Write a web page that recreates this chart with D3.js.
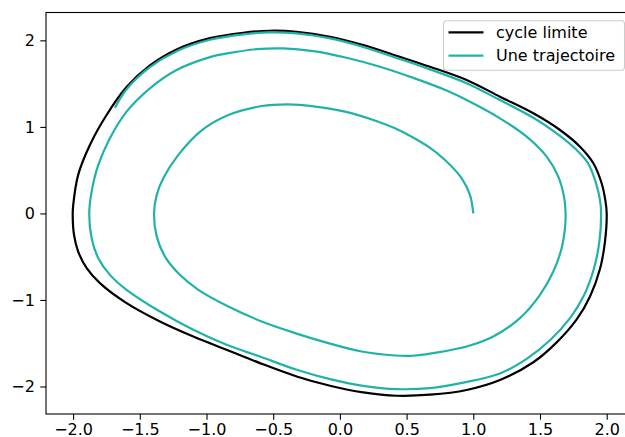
<!DOCTYPE html>
<html>
<head>
<meta charset="utf-8">
<script src="https://cdn.jsdelivr.net/npm/d3@7"></script>
<style>
  html, body { margin: 0; padding: 0; background: #fff; overflow: hidden; }
</style>
</head>
<body>
<div id="chart"></div>
<script>
// limit cycle (x, y)
const limitCycle = [
  [2.0, 0.0], [1.99, 0.15], [1.962, 0.349], [1.90, 0.58], [1.80, 0.771], [1.65, 0.964],
  [1.45, 1.157], [1.20, 1.349], [0.95, 1.542], [0.675, 1.695], [0.425, 1.822], [0.175, 1.946],
  [-0.074, 2.042], [-0.324, 2.099], [-0.524, 2.111], [-0.724, 2.088], [-0.974, 2.025],
  [-1.224, 1.895], [-1.424, 1.71], [-1.599, 1.46], [-1.749, 1.137], [-1.874, 0.791],
  [-1.962, 0.445], [-1.999, 0.098], [-2.003, -0.017], [-1.993, -0.248], [-1.962, -0.441],
  [-1.898, -0.633], [-1.799, -0.806], [-1.599, -1.037], [-1.349, -1.249], [-1.099, -1.423],
  [-0.849, -1.576], [-0.599, -1.73], [-0.324, -1.884], [-0.074, -1.992], [0.175, -2.069],
  [0.425, -2.107], [0.675, -2.095], [0.95, -2.04], [1.2, -1.925], [1.45, -1.72],
  [1.625, -1.49], [1.775, -1.225], [1.875, -0.96], [1.95, -0.64], [1.987, -0.326]
];

// the trajectory, starting at (1, 0), one turn per array
const trajTurn1 = [
  [1.0, 0.0], [0.975, 0.214], [0.913, 0.406], [0.788, 0.618], [0.663, 0.771], [0.538, 0.887],
  [0.413, 0.984], [0.288, 1.06], [0.038, 1.176], [-0.211, 1.241], [-0.386, 1.261],
  [-0.586, 1.241], [-0.836, 1.137], [-1.036, 0.96], [-1.211, 0.676], [-1.324, 0.406],
  [-1.373, 0.214], [-1.393, 0.0], [-1.373, -0.268], [-1.311, -0.499], [-1.211, -0.691],
  [-1.061, -0.883], [-0.836, -1.076], [-0.586, -1.249], [-0.336, -1.383], [-0.087, -1.499],
  [0.163, -1.596], [0.413, -1.642], [0.55, -1.645], [0.70, -1.614], [0.95, -1.538],
  [1.15, -1.423], [1.35, -1.21], [1.5, -0.941], [1.6, -0.672], [1.662, -0.402], [1.687, -0.171]
];
const trajTurn2 = [
  [1.692, 0.0], [1.68, 0.194], [1.637, 0.425], [1.55, 0.656], [1.40, 0.887], [1.20, 1.099],
  [0.95, 1.31], [0.80, 1.42], [0.55, 1.566], [0.30, 1.695], [0.05, 1.799], [-0.199, 1.876],
  [-0.424, 1.907], [-0.624, 1.898], [-0.824, 1.855], [-0.974, 1.806], [-1.224, 1.657],
  [-1.424, 1.446], [-1.599, 1.176], [-1.724, 0.868], [-1.811, 0.56], [-1.861, 0.252],
  [-1.879, 0.0], [-1.861, -0.287], [-1.811, -0.518], [-1.724, -0.71], [-1.599, -0.883],
  [-1.349, -1.134], [-1.099, -1.345], [-0.849, -1.518], [-0.599, -1.654], [-0.324, -1.807],
  [-0.074, -1.915], [0.175, -1.992], [0.425, -2.03], [0.675, -2.019], [0.925, -1.955],
  [1.2, -1.85], [1.40, -1.68], [1.575, -1.466], [1.725, -1.21], [1.83, -0.945],
  [1.905, -0.633], [1.945, -0.326]
];
const trajTurn3 = [
  [1.958, 0.0], [1.95, 0.15], [1.92, 0.349], [1.86, 0.58], [1.775, 0.733], [1.625, 0.926],
  [1.45, 1.105], [1.2, 1.31], [0.95, 1.505], [0.675, 1.665], [0.425, 1.797], [0.175, 1.924],
  [-0.074, 2.022], [-0.324, 2.08], [-0.524, 2.092], [-0.724, 2.07], [-0.974, 2.007],
  [-1.224, 1.875], [-1.424, 1.69], [-1.599, 1.435], [-1.686, 1.222]
];
const trajectory = trajTurn1.concat(trajTurn2, trajTurn3);

const xTicks = [-2.0, -1.5, -1.0, -0.5, 0.0, 0.5, 1.0, 1.5, 2.0];
const yTicks = [-2, -1, 0, 1, 2];
const seriesNames = ["cycle limite", "Une trajectoire"];
const seriesColors = ["#000000", "#20b2aa"];

const width = 625, height = 437;
const plot = { left: 46, right: 633.4, top: 12.5, bottom: 414 };
const fontSize = 16;

// matplotlib style 5% margins around the data
const all = limitCycle.concat(trajectory);
const xExt = d3.extent(all, d => d[0]);
const yExt = d3.extent(all, d => d[1]);
const xPad = (xExt[1] - xExt[0]) * 0.05, yPad = (yExt[1] - yExt[0]) * 0.05;

const x = d3.scaleLinear()
  .domain([xExt[0] - xPad, xExt[1] + xPad])
  .range([plot.left, plot.right]);
const y = d3.scaleLinear()
  .domain([yExt[0] - yPad, yExt[1] + yPad])
  .range([plot.bottom, plot.top]);

const svg = d3.select("#chart").append("svg")
  .attr("width", width)
  .attr("height", height)
  .style("display", "block")
  .style("font-family", "'DejaVu Sans', sans-serif");

const line = d3.line()
  .x(d => x(d[0]))
  .y(d => y(d[1]));

svg.append("path")
  .attr("fill", "none")
  .attr("stroke", seriesColors[0])
  .attr("stroke-width", 2.2)
  .attr("d", line.curve(d3.curveCatmullRomClosed)(limitCycle));

svg.append("path")
  .attr("fill", "none")
  .attr("stroke", seriesColors[1])
  .attr("stroke-width", 2.2)
  .attr("d", line.curve(d3.curveCatmullRom)(trajectory));

// axes
const xAxis = g => g
  .attr("transform", `translate(0,${plot.bottom})`)
  .call(d3.axisBottom(x).tickValues(xTicks).tickFormat(d3.format(".1f"))
    .tickSize(5.7).tickPadding(4.2).tickSizeOuter(0))
  .call(g => g.select(".domain").remove());

const yAxis = g => g
  .attr("transform", `translate(${plot.left},0)`)
  .call(d3.axisLeft(y).tickValues(yTicks).tickFormat(d3.format("d"))
    .tickSize(5.7).tickPadding(5.4).tickSizeOuter(0))
  .call(g => g.select(".domain").remove());

svg.append("g").call(xAxis);
svg.append("g").call(yAxis);

svg.selectAll(".tick line").attr("stroke", "#000").attr("stroke-width", 1.1);
svg.selectAll(".tick text")
  .attr("fill", "#000")
  .style("font-size", fontSize + "px")
  .style("font-family", "'DejaVu Sans', sans-serif");

// frame
svg.append("rect")
  .attr("x", plot.left)
  .attr("y", plot.top)
  .attr("width", plot.right - plot.left)
  .attr("height", plot.bottom - plot.top)
  .attr("fill", "none")
  .attr("stroke", "#000")
  .attr("stroke-width", 1.1);

// legend, upper right
const legend = svg.append("g").attr("transform", "translate(443.5,20.7)");
legend.append("rect")
  .attr("width", 181)
  .attr("height", 49.5)
  .attr("rx", 3.2)
  .attr("fill", "#fff")
  .attr("fill-opacity", 0.8)
  .attr("stroke", "#cccccc")
  .attr("stroke-width", 1.1);

const rows = legend.selectAll("g.row")
  .data(seriesNames)
  .join("g")
  .attr("class", "row")
  .attr("transform", (d, i) => `translate(0,${11.6 + i * 23.4})`);

rows.append("line")
  .attr("x1", 5)
  .attr("x2", 40)
  .attr("stroke", (d, i) => seriesColors[i])
  .attr("stroke-width", 2.2);

rows.append("text")
  .attr("x", 52.5)
  .attr("dy", "0.36em")
  .style("font-size", fontSize + "px")
  .attr("fill", "#000")
  .text(d => d);
</script>
</body>
</html>
